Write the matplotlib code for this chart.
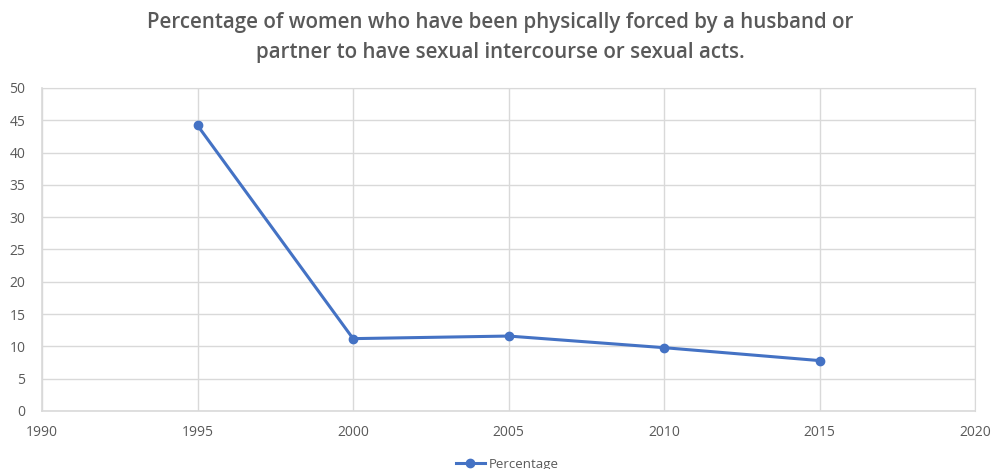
import matplotlib
matplotlib.use("Agg")
import matplotlib.pyplot as plt

years = [1995, 2000, 2005, 2010, 2015]
percentage = [44.2, 11.2, 11.6, 9.8, 7.8]
x_ticks = [1990, 1995, 2000, 2005, 2010, 2015, 2020]
y_ticks = [0, 5, 10, 15, 20, 25, 30, 35, 40, 45, 50]
title = "Percentage of women who have been physically forced by a husband or\npartner to have sexual intercourse or sexual acts."

fig = plt.figure(figsize=(9.91, 4.69), dpi=100)
ax = fig.add_axes([0.0424, 0.1237, 0.9416, 0.6887])
line_color = "#4472C4"
ax.plot(years, percentage, color=line_color, lw=2.2, marker="o", ms=6, label="Percentage")
ax.set_xlim(1990, 2020)
ax.set_ylim(0, 50)
ax.set_xticks(x_ticks)
ax.set_yticks(y_ticks)
ax.grid(True, color="#D9D9D9", lw=1)
ax.set_axisbelow(True)
for s in ["top", "right"]:
    ax.spines[s].set_color("#D9D9D9")
for s in ["left", "bottom"]:
    ax.spines[s].set_color("#D9D9D9")
    ax.spines[s].set_linewidth(1.2)
ax.tick_params(length=0, labelsize=10, labelcolor="#595959", pad=10)
ax.tick_params(axis="y", pad=12)
for lab in ax.get_xticklabels() + ax.get_yticklabels():
    lab.set_family("Open Sans")
fig.suptitle(title, x=0.505, y=0.975, fontsize=14.8, color="#595959",
             fontweight="semibold", family="Open Sans", linespacing=1.55)
leg = fig.legend(loc="center", bbox_to_anchor=(0.512, 0.01), frameon=False,
                 prop={"family": "Open Sans", "size": 9.5}, handlelength=2.2,
                 handletextpad=0.3)
for t in leg.get_texts():
    t.set_color("#595959")
fig.savefig("out.png", dpi=100, facecolor="white")
